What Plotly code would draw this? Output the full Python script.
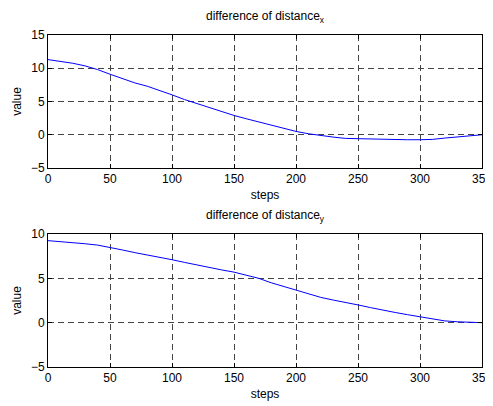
import plotly.graph_objects as go

steps = list(range(0, 351, 10))
diff_x = [11.3, 11.05, 10.75, 10.35, 9.8, 9.1, 8.4, 7.8, 7.3, 6.7, 6.0, 5.3, 4.7, 4.0, 3.4, 2.9,
          2.4, 1.9, 1.4, 0.9, 0.5, 0.15, -0.15, -0.35, -0.55, -0.6, -0.7, -0.75, -0.75, -0.75,
          -0.75, -0.7, -0.5, -0.35, -0.2, 0.0]
diff_y = [9.25, 9.15, 9.0, 8.9, 8.75, 8.5, 8.2, 7.9, 7.65, 7.35, 7.1, 6.8, 6.5, 6.2, 5.95, 5.7,
          5.35, 5.0, 4.5, 4.1, 3.65, 3.25, 2.85, 2.55, 2.3, 2.0, 1.7, 1.4, 1.15, 0.9, 0.65, 0.4,
          0.2, 0.1, 0.02, 0.0]
x_ticks = [0, 50, 100, 150, 200, 250, 300, 350]
y_ticks_top = [-5, 0, 5, 10, 15]
y_ticks_bottom = [-5, 0, 5, 10]
titles = ["difference of distance<sub>x</sub>", "difference of distance<sub>y</sub>"]

FONT = "Liberation Sans, Arial, sans-serif"
fig = go.Figure()
fig.add_trace(go.Scatter(x=steps, y=diff_x, mode="lines", line=dict(color="#0000ff", width=1),
                         xaxis="x", yaxis="y", showlegend=False))
fig.add_trace(go.Scatter(x=steps, y=diff_y, mode="lines", line=dict(color="#0000ff", width=1),
                         xaxis="x2", yaxis="y2", showlegend=False))

axis_common = dict(showline=True, mirror="ticks", linecolor="black", linewidth=1,
                   ticks="inside", ticklen=4, tickcolor="black", automargin=False,
                   ticklabeloverflow="allow",
                   showgrid=True, gridcolor="#444444", griddash="6px,4px", gridwidth=1,
                   zeroline=False, tickfont=dict(size=12, color="black", family=FONT))

# page body has an 8px default margin, so the figure is sized/offset to compensate
fig.update_layout(
    width=485, height=398,
    margin=dict(l=40, r=11, t=27, b=39),
    paper_bgcolor="white", plot_bgcolor="white",
    font=dict(family=FONT, color="black"),
    xaxis=dict(domain=[0, 1], anchor="y", range=[0, 350], tickvals=x_ticks,
               title=dict(text="steps", font=dict(size=12), standoff=5), **axis_common),
    yaxis=dict(domain=[0.5994, 1], anchor="x", range=[-5, 15], tickvals=y_ticks_top,
               title=dict(text="value", font=dict(size=12), standoff=6), **axis_common),
    xaxis2=dict(domain=[0, 1], anchor="y2", range=[0, 350], tickvals=x_ticks,
                title=dict(text="steps", font=dict(size=12), standoff=5), **axis_common),
    yaxis2=dict(domain=[0, 0.4006], anchor="x2", range=[-5, 10], tickvals=y_ticks_bottom,
                title=dict(text="value", font=dict(size=12), standoff=6), **axis_common),
    annotations=[
        dict(text=titles[0], x=0.5, y=1, xref="paper", yref="paper", xanchor="center",
             yanchor="bottom", yshift=8, showarrow=False, font=dict(size=12, color="black")),
        dict(text=titles[1], x=0.5, y=0.4006, xref="paper", yref="paper", xanchor="center",
             yanchor="bottom", yshift=8, showarrow=False, font=dict(size=12, color="black")),
    ],
)

fig.write_html("out.html")
